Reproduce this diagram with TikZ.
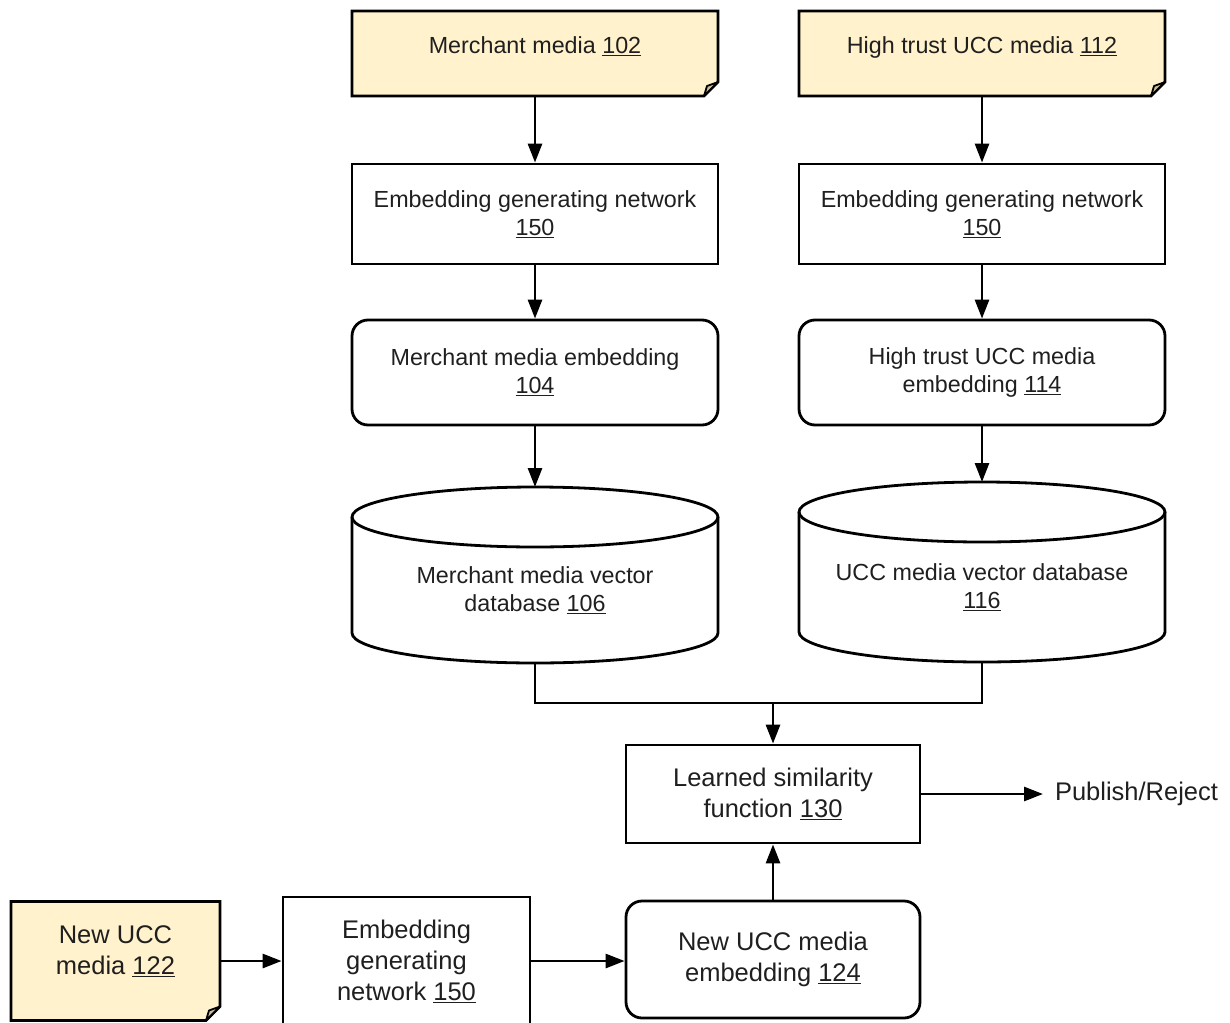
\documentclass[tikz,border=0pt]{standalone}
\usepackage{fontspec}
\setmainfont{Liberation Sans}
\usepackage{tikz}
\usetikzlibrary{arrows.meta,backgrounds}
\definecolor{notefill}{HTML}{FFF2CC}
\definecolor{foldtan}{HTML}{CDBE98}
\newcommand{\topsize}{\fontsize{23.3}{28}\selectfont}
\newcommand{\botsize}{\fontsize{25.5}{31}\selectfont}

\begin{document}
\begin{tikzpicture}[x=1pt,y=-1pt,
  every node/.style={align=center,inner sep=0pt,outer sep=0pt,font=\topsize,text=black!88},
  box/.style={draw,line width=2.8pt,outer sep=1.4pt,minimum width=366pt,minimum height=100pt},
  rbox/.style={box,rounded corners=16pt},
  notebox/.style={minimum width=366pt,minimum height=85pt},
  dbbox/.style={minimum width=366pt},
  wire/.style={line width=2.8pt},
  link/.style={wire,-{Triangle[length=19pt,width=14pt]}}]
  \useasboundingbox (0,0) rectangle (1230,1022);
  \clip (0,0) rectangle (1230,1022);
  % ── Left and right columns ─────────────────────────
  \node[notebox,text depth=17pt] (merch) at (535,53.5) {Merchant media \underline{102}};
  \node[notebox,text depth=17pt] (trust) at (982,53.5) {High trust UCC media \underline{112}};
  \node[box] (embA) at (535,214) {Embedding generating network\\\underline{150}};
  \node[box] (embB) at (982,214) {Embedding generating network\\\underline{150}};
  \node[rbox,minimum height=105pt] (merchEmb) at (535,372.5) {Merchant media embedding\\\underline{104}};
  \node[rbox,minimum height=105pt] (trustEmb) at (982,372.5) {High trust UCC media\\embedding \underline{114}};
  \node[dbbox,minimum height=146pt] (merchDb) at (535,590) {Merchant media vector\\database \underline{106}};
  \node[dbbox,minimum height=150pt] (uccDb) at (982,587) {UCC media vector database\\\underline{116}};
  % ── Similarity and bottom row ──────────────────────
  \coordinate (join) at (773,703);
  \node[box,minimum width=294pt,minimum height=98pt,font=\botsize] (sim) at (773,794) {Learned similarity\\function \underline{130}};
  \node[font=\botsize,anchor=west,inner xsep=12pt] (verdict) at (1043,794) {Publish/Reject};
  \node[notebox,minimum width=209pt,minimum height=119pt,font=\botsize,text depth=22pt] (newUcc) at (115.5,961) {New UCC\\media \underline{122}};
  \node[box,minimum width=247pt,minimum height=128pt,font=\botsize] (embC) at (406.5,961) {Embedding\\generating\\network \underline{150}};
  \node[rbox,minimum width=294pt,minimum height=117pt,font=\botsize] (newEmb) at (773,959.5) {New UCC media\\embedding \underline{124}};
  % ── Arrows ─────────────────────────────────────────
  \draw[link] (merch) -- (embA);
  \draw[link] (trust) -- (embB);
  \draw[link] (embA) -- (merchEmb);
  \draw[link] (embB) -- (trustEmb);
  \draw[link] (merchEmb) -- ([yshift=30pt]merchDb.north);
  \draw[link] (trustEmb) -- ([yshift=30pt]uccDb.north);
  \draw[wire] (merchDb.south) |- (join) -| (uccDb.south);
  \draw[link] (join) -- (sim);
  \draw[link] (newEmb) -- (sim);
  \draw[link] (sim) -- (verdict);
  \draw[link] (newUcc.east) -- (newUcc.east -| embC.west);
  \draw[link] (embC.east) -- (embC.east -| newEmb.west);
  % ── Note and database outlines (behind the text) ───
  \begin{scope}[on background layer]
    \foreach \n in {merch,trust,newUcc}{
      \draw[wire,fill=notefill] (\n.north west) -- (\n.north east) -- ([yshift=14pt]\n.south east)
        -- ([xshift=-14pt]\n.south east) -- (\n.south west) -- cycle;
      \draw[line width=1.8pt,fill=foldtan,line join=round] ([yshift=14pt]\n.south east)
        -- ([xshift=-14pt]\n.south east) -- ([xshift=-11pt,yshift=10pt]\n.south east) -- cycle;
    }
    \foreach \n in {merchDb,uccDb}{
      \draw[wire] (\n.north) ellipse [x radius=183pt,y radius=30pt];
      \draw[wire] (\n.north west) -- ([yshift=30pt]\n.south west)
        arc[start angle=180,end angle=360,x radius=183pt,y radius=30pt] -- (\n.north east);
    }
  \end{scope}
\end{tikzpicture}
\end{document}
